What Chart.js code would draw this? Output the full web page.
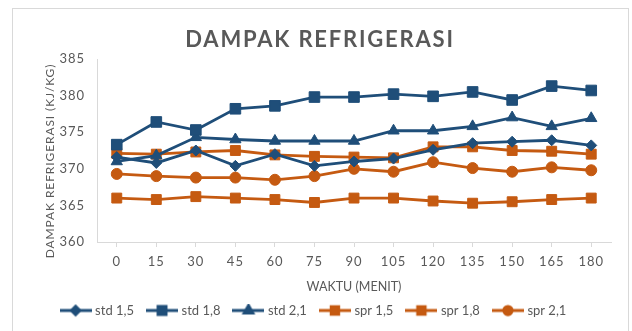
<!DOCTYPE html>
<html>
<head>
<meta charset="utf-8">
<script src="https://cdn.jsdelivr.net/npm/chart.js@4"></script>
<style>
  html, body { margin: 0; padding: 0; background: #fff; }
  #wrap { position: relative; width: 632px; height: 331px; overflow: hidden; }
  #frame { position: absolute; left: 12px; top: 8px; width: 617px; height: 340px; border: 1px solid #d9d9d9; box-sizing: border-box; }
  #chart { position: absolute; left: 0; top: 0; }
</style>
</head>
<body>
<div id="wrap">
  <div id="frame"></div>
  <canvas id="chart" width="632" height="331"></canvas>
</div>
<script>
// Time axis (minutes)
const waktu = ['0', '15', '30', '45', '60', '75', '90', '105', '120', '135', '150', '165', '180'];

// Refrigeration effect per run (kJ/kg)
const std15 = [371.6, 370.8, 372.5, 370.4, 372.0, 370.4, 371.0, 371.4, 372.6, 373.5, 373.7, 373.9, 373.2];
const std18 = [373.3, 376.4, 375.3, 378.2, 378.6, 379.8, 379.8, 380.2, 379.9, 380.5, 379.4, 381.3, 380.7];
const std21 = [371.0, 371.8, 374.3, 374.0, 373.8, 373.8, 373.8, 375.2, 375.2, 375.8, 377.0, 375.8, 376.9];
const spr15 = [372.1, 372.0, 372.3, 372.5, 371.9, 371.7, 371.6, 371.5, 373.0, 373.0, 372.5, 372.4, 372.0];
const spr18 = [366.0, 365.8, 366.2, 366.0, 365.8, 365.4, 366.0, 366.0, 365.6, 365.3, 365.5, 365.8, 366.0];
const spr21 = [369.3, 369.0, 368.8, 368.8, 368.5, 369.0, 370.0, 369.6, 370.9, 370.1, 369.6, 370.2, 369.8];

const yTicks = [360, 365, 370, 375, 380, 385];

const BLUE = '#1f4e79';
const ORANGE = '#c55a11';
const GREY = '#595959';
const FONT = 'Lato, "Open Sans", sans-serif';

// legend icon: short line with the series marker in the middle
function legendIcon(color, style, r) {
  const c = document.createElement('canvas');
  c.width = 32; c.height = 14;
  const ctx = c.getContext('2d');
  ctx.strokeStyle = color;
  ctx.lineWidth = 3;
  ctx.beginPath(); ctx.moveTo(0, 7); ctx.lineTo(32, 7); ctx.stroke();
  Chart.helpers.drawPoint(ctx, { pointStyle: style, radius: r, borderWidth: 1 }, 16, 7);
  ctx.fillStyle = color;
  ctx.fill();
  return c;
}

function series(label, data, color, style, r) {
  return {
    label, data,
    borderColor: color,
    backgroundColor: color,
    borderWidth: 2.8,
    pointStyle: style,
    pointRadius: r,
    pointHoverRadius: r,
    pointBorderWidth: 1,
    tension: 0
  };
}

const datasets = [
  series('std 1,5', std15, BLUE, 'rectRot', 5.5),
  series('std 1,8', std18, BLUE, 'rect', 7.5),
  series('std 2,1', std21, BLUE, 'triangle', 6.5),
  series('spr 1,5', spr15, ORANGE, 'rect', 7),
  series('spr 1,8', spr18, ORANGE, 'rect', 7),
  series('spr 2,1', spr21, ORANGE, 'circle', 5.5)
];

const icons = datasets.map(d => legendIcon(d.borderColor, d.pointStyle, d.pointRadius * 0.75));

// spaced-out titles, plus letter spacing for the axis labels
const textPlugin = {
  id: 'spacedText',
  afterDatasetsDraw(chart) {
    // axis ticks (z: 1) are drawn after this hook
    if ('letterSpacing' in chart.ctx) chart.ctx.letterSpacing = '1px';
  },
  afterDraw(chart) {
    const ctx = chart.ctx;
    const spacing = 'letterSpacing' in ctx;
    if (spacing) ctx.letterSpacing = '0px';
    ctx.save();
    ctx.fillStyle = GREY;
    ctx.textAlign = 'center';
    ctx.textBaseline = 'middle';

    ctx.font = 'bold 22px ' + FONT;
    if (spacing) ctx.letterSpacing = '1.8px';
    ctx.fillText('DAMPAK REFRIGERASI', 320, 40);

    ctx.font = '12px ' + FONT;
    if (spacing) ctx.letterSpacing = '0.9px';
    ctx.translate(50, 161);
    ctx.rotate(-Math.PI / 2);
    ctx.fillText('DAMPAK REFRIGERASI (KJ/KG)', 0, 0);
    ctx.restore();
    if (spacing) ctx.letterSpacing = '0px';
  }
};

new Chart(document.getElementById('chart'), {
  type: 'line',
  data: { labels: waktu, datasets },
  plugins: [textPlugin],
  options: {
    responsive: false,
    animation: false,
    layout: { padding: { left: 18, right: 21, top: 59, bottom: 4 } },
    plugins: {
      title: { display: false },
      tooltip: { enabled: false },
      legend: {
        position: 'bottom',
        labels: {
          usePointStyle: true,
          pointStyleWidth: 26,
          boxHeight: 13,
          padding: 15,
          color: GREY,
          font: { family: FONT, size: 13 },
          generateLabels(chart) {
            const items = Chart.defaults.plugins.legend.labels.generateLabels(chart);
            items.forEach((it, i) => { it.pointStyle = icons[i]; });
            return items;
          }
        }
      }
    },
    scales: {
      x: {
        offset: true,
        grid: { display: true, drawOnChartArea: false, drawTicks: true, tickLength: 5, color: '#d9d9d9' },
        border: { color: '#d9d9d9' },
        ticks: { z: 1, color: GREY, font: { family: FONT, size: 13 }, padding: 7, maxRotation: 0, autoSkip: false },
        title: { display: true, text: 'WAKTU (MENIT)', color: GREY, font: { family: FONT, size: 12.5 }, padding: { top: 0, bottom: -5 } },
        afterFit(scale) { scale.height = 47; }
      },
      y: {
        min: yTicks[0],
        max: yTicks[yTicks.length - 1],
        afterBuildTicks(scale) { scale.ticks = yTicks.map(v => ({ value: v })); },
        grid: { display: false, drawTicks: false },
        border: { color: '#d9d9d9' },
        ticks: { z: 1, color: GREY, font: { family: FONT, size: 13 }, padding: 12 },
        title: { display: false },
        afterFit(scale) { scale.width = 79; }
      }
    }
  }
});
</script>
</body>
</html>
